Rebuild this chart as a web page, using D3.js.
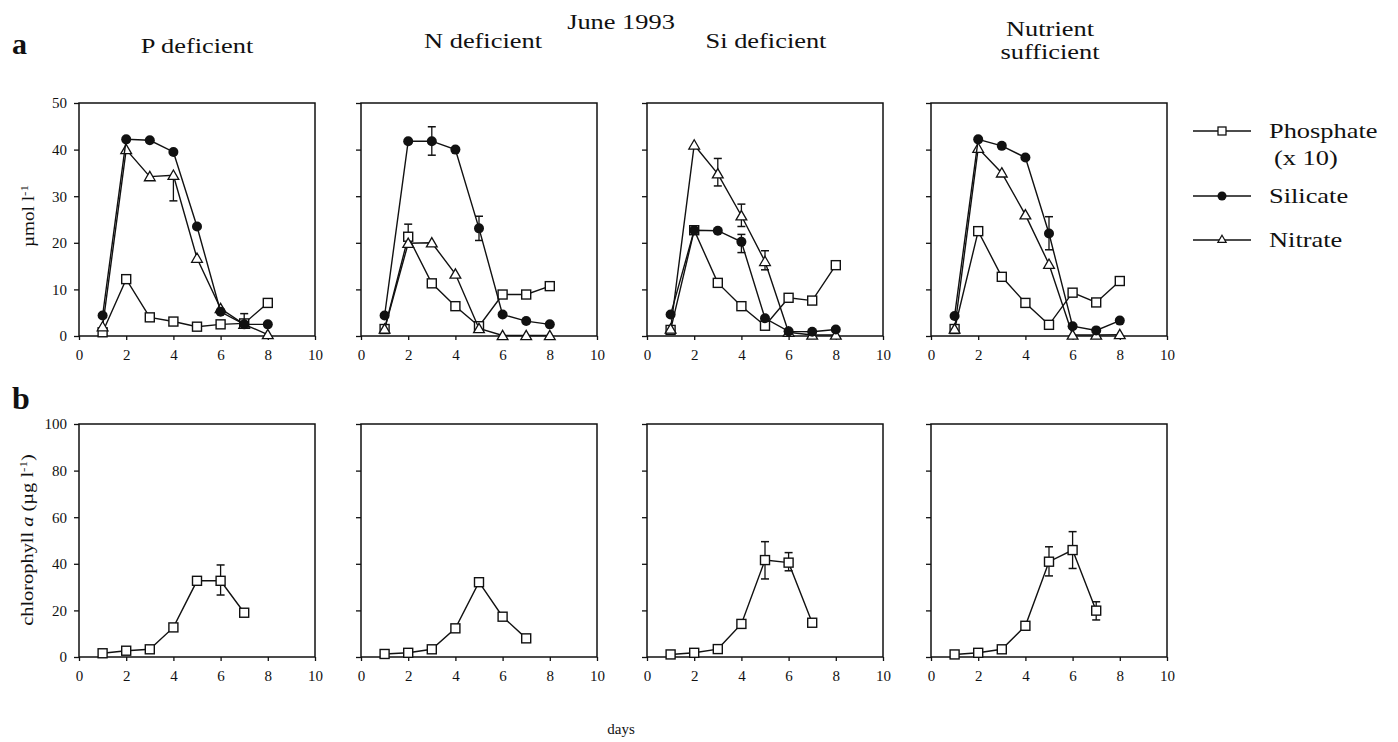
<!DOCTYPE html>
<html>
<head>
<meta charset="utf-8">
<script src="https://cdn.jsdelivr.net/npm/d3@7.9.0/dist/d3.min.js"></script>
<style>
  body { margin: 0; background: #fff; }
  svg { display: block; }
  text { font-family: "Liberation Serif", "Times New Roman", serif; fill: #111; }
  .tick text { font-size: 15px; }
  .tick line { stroke: #111; stroke-width: 1.3; }
</style>
</head>
<body>
<svg id="chart" width="1398" height="742"></svg>
<script>
// treatments (one column each)
const panelTitles = [["P deficient"], ["N deficient"], ["Si deficient"], ["Nutrient", "sufficient"]];

// days sampled
const nutrientDays = [1, 2, 3, 4, 5, 6, 7, 8];
const chlDays = [1, 2, 3, 4, 5, 6, 7];

// µmol l-1, phosphate already x 10
const phosphate = [
  [0.8, 12.2, 4.0, 3.1, 2.0, 2.5, 2.7, 7.1],
  [1.5, 21.3, 11.3, 6.4, 2.1, 8.9, 8.9, 10.7],
  [1.3, 22.7, 11.4, 6.4, 2.2, 8.2, 7.6, 15.2],
  [1.5, 22.5, 12.7, 7.1, 2.4, 9.3, 7.2, 11.8]
];
const silicate = [
  [4.4, 42.2, 42.0, 39.5, 23.5, 5.2, 2.5, 2.5],
  [4.4, 41.8, 41.8, 40.0, 23.1, 4.6, 3.2, 2.5],
  [4.6, 22.7, 22.6, 20.2, 3.8, 1.0, 0.9, 1.4],
  [4.3, 42.2, 40.8, 38.3, 22.0, 2.1, 1.2, 3.3]
];
const nitrate = [
  [2.0, 40.0, 34.2, 34.5, 16.7, 5.9, 2.5, 0.3],
  [1.5, 19.9, 20.0, 13.3, 1.6, 0.1, 0.1, 0.1],
  [1.5, 41.0, 34.8, 25.8, 16.0, 0.8, 0.2, 0.2],
  [1.5, 40.3, 35.0, 26.0, 15.4, 0.2, 0.2, 0.3]
];

// chlorophyll a, µg l-1
const chlorophyll = [
  [1.6, 2.7, 3.3, 12.7, 32.7, 32.7, 19.0],
  [1.3, 1.8, 3.3, 12.3, 32.1, 17.3, 8.0],
  [1.1, 1.8, 3.4, 14.2, 41.6, 40.5, 14.7],
  [1.1, 1.8, 3.3, 13.4, 40.9, 45.9, 19.9]
];

// error bars: panel, series, day, low end, high end (null = not drawn)
const nutrientErrors = [
  [0, "nitrate", 4, 29.0, null],
  [0, "nitrate", 7, 1.8, 4.8],
  [1, "silicate", 3, 38.8, 44.9],
  [1, "silicate", 5, 20.5, 25.7],
  [1, "phosphate", 2, null, 24.0],
  [2, "nitrate", 3, 32.2, 38.1],
  [2, "nitrate", 4, 23.5, 28.3],
  [2, "nitrate", 5, 14.2, 18.3],
  [2, "silicate", 4, 17.9, 21.8],
  [3, "silicate", 5, 18.5, 25.6]
];
const chlErrors = [
  [0, 6, 26.6, 39.5],
  [2, 5, 33.5, 49.5],
  [2, 6, 37.0, 44.8],
  [3, 5, 34.8, 47.3],
  [3, 6, 38.0, 53.8],
  [3, 7, 15.9, 23.7]
];

const xTicks = [0, 2, 4, 6, 8, 10];
const nutrientTicks = [0, 10, 20, 30, 40, 50];
const chlTicks = [0, 20, 40, 60, 80, 100];

// layout
const panelLeft = [79, 361, 647, 931];
const panelW = 236;
const rowTop = [103, 424];
const panelH = 233;
const ink = "#111";
const stretch = 1.2; // the scanned lettering is wide

const svg = d3.select("#chart");

const x = d3.scaleLinear().domain([0, 10]).range([0, panelW]);
const yNut = d3.scaleLinear().domain([0, 50]).range([panelH, 0]);
const yChl = d3.scaleLinear().domain([0, 100]).range([panelH, 0]);

// text drawn wider than the font, as in the scan
function wideText(px, py, size, anchor, rotate) {
  return svg.append("text")
    .attr("transform", `translate(${px},${py})${rotate ? " rotate(-90)" : ""} scale(${stretch},1)`)
    .attr("text-anchor", anchor).style("font-size", size + "px");
}

function drawMarker(g, shape, cx, cy) {
  if (shape === "square") {
    g.append("rect").attr("x", cx - 4.5).attr("y", cy - 4.5)
      .attr("width", 9).attr("height", 9)
      .attr("fill", "#fff").attr("stroke", ink).attr("stroke-width", 1.4);
  } else if (shape === "circle") {
    g.append("circle").attr("cx", cx).attr("cy", cy).attr("r", 5)
      .attr("fill", ink);
  } else {
    g.append("path").attr("d", d3.symbol(d3.symbolTriangle, 50)())
      .attr("transform", `translate(${cx},${cy + 1})`)
      .attr("fill", "#fff").attr("stroke", ink).attr("stroke-width", 1.3);
  }
}

function drawError(g, cx, y, v, lo, hi) {
  [lo, hi].forEach(end => {
    if (end === null) return;
    g.append("line").attr("x1", cx).attr("x2", cx)
      .attr("y1", y(v)).attr("y2", y(end))
      .attr("stroke", ink).attr("stroke-width", 1.3);
    g.append("line").attr("x1", cx - 4).attr("x2", cx + 4)
      .attr("y1", y(end)).attr("y2", y(end))
      .attr("stroke", ink).attr("stroke-width", 1.5);
  });
}

function drawFrame(g, y, ticks, showLabels) {
  const yAxis = d3.axisLeft(y).tickValues(ticks).tickSize(5).tickPadding(7);
  if (!showLabels) yAxis.tickFormat("");
  g.append("g").call(yAxis).call(a => a.select(".domain").remove());

  const xAxis = d3.axisBottom(x).tickValues(xTicks).tickSize(4).tickPadding(9);
  g.append("g").attr("transform", `translate(0,${panelH})`)
    .call(xAxis).call(a => a.select(".domain").remove());

  g.append("rect").attr("width", panelW).attr("height", panelH)
    .attr("fill", "none").attr("stroke", ink).attr("stroke-width", 1.5);
}

function drawSeries(g, y, xs, vals, shape) {
  const line = d3.line().x((d, i) => x(xs[i])).y(d => y(d));
  g.append("path").datum(vals).attr("d", line)
    .attr("fill", "none").attr("stroke", ink).attr("stroke-width", 1.4);
  vals.forEach((v, i) => drawMarker(g, shape, x(xs[i]), y(v)));
}

const seriesData = { phosphate, silicate, nitrate };
const seriesShape = { phosphate: "square", silicate: "circle", nitrate: "triangle" };

// row a: nutrients
panelLeft.forEach((left, p) => {
  const g = svg.append("g").attr("transform", `translate(${left},${rowTop[0]})`);
  drawFrame(g, yNut, nutrientTicks, p === 0);
  nutrientErrors.filter(e => e[0] === p).forEach(([, s, day, lo, hi]) => {
    drawError(g, x(day), yNut, seriesData[s][p][day - 1], lo, hi);
  });
  ["phosphate", "nitrate", "silicate"].forEach(s => {
    drawSeries(g, yNut, nutrientDays, seriesData[s][p], seriesShape[s]);
  });
});

// row b: chlorophyll
panelLeft.forEach((left, p) => {
  const g = svg.append("g").attr("transform", `translate(${left},${rowTop[1]})`);
  drawFrame(g, yChl, chlTicks, p === 0);
  chlErrors.filter(e => e[0] === p).forEach(([, day, lo, hi]) => {
    drawError(g, x(day), yChl, chlorophyll[p][day - 1], lo, hi);
  });
  drawSeries(g, yChl, chlDays, chlorophyll[p], "square");
});

// titles
wideText(621, 29, 22, "middle").text("June 1993");

const titleX = [197, 483, 766, 1050];
const titleY = [53, 48, 48, 36];
panelTitles.forEach((lines, p) => {
  lines.forEach((l, i) => wideText(titleX[p], titleY[p] + i * 23, 22, "middle").text(l));
});

svg.append("text").attr("x", 12).attr("y", 54)
  .style("font-size", "30px").style("font-weight", "bold").text("a");
svg.append("text").attr("x", 12).attr("y", 409)
  .style("font-size", "32px").style("font-weight", "bold").text("b");

// axis labels
const yl1 = wideText(34, 216, 16, "middle", true);
yl1.append("tspan").text("µmol l");
yl1.append("tspan").attr("dy", -6).style("font-size", "11px").text("-1");

const yl2 = wideText(33, 540, 17, "middle", true);
yl2.append("tspan").text("chlorophyll ");
yl2.append("tspan").style("font-style", "italic").text("a");
yl2.append("tspan").text(" (µg l");
yl2.append("tspan").attr("dy", -6).style("font-size", "11px").text("-1");
yl2.append("tspan").attr("dy", 6).text(")");

svg.append("text").attr("x", 621).attr("y", 734).attr("text-anchor", "middle")
  .style("font-size", "15px").text("days");

// legend
const legendItems = [
  { shape: "square", label: ["Phosphate", "(x 10)"], y: 131 },
  { shape: "circle", label: ["Silicate"], y: 196 },
  { shape: "triangle", label: ["Nitrate"], y: 240 }
];
legendItems.forEach(item => {
  const g = svg.append("g");
  g.append("line").attr("x1", 1193).attr("x2", 1251)
    .attr("y1", item.y).attr("y2", item.y)
    .attr("stroke", ink).attr("stroke-width", 1.4);
  if (item.shape === "square") {
    g.append("rect").attr("x", 1218).attr("y", item.y - 4).attr("width", 8).attr("height", 8)
      .attr("fill", "#fff").attr("stroke", ink).attr("stroke-width", 1.3);
  } else if (item.shape === "circle") {
    g.append("circle").attr("cx", 1222).attr("cy", item.y).attr("r", 4.5).attr("fill", ink);
  } else {
    g.append("path").attr("d", d3.symbol(d3.symbolTriangle, 30)())
      .attr("transform", `translate(1222,${item.y})`)
      .attr("fill", "#fff").attr("stroke", ink).attr("stroke-width", 1.2);
  }
  item.label.forEach((l, i) => {
    wideText(i ? 1274 : 1269, item.y + 7 + i * 27, 22, "start").text(l);
  });
});
</script>
</body>
</html>
